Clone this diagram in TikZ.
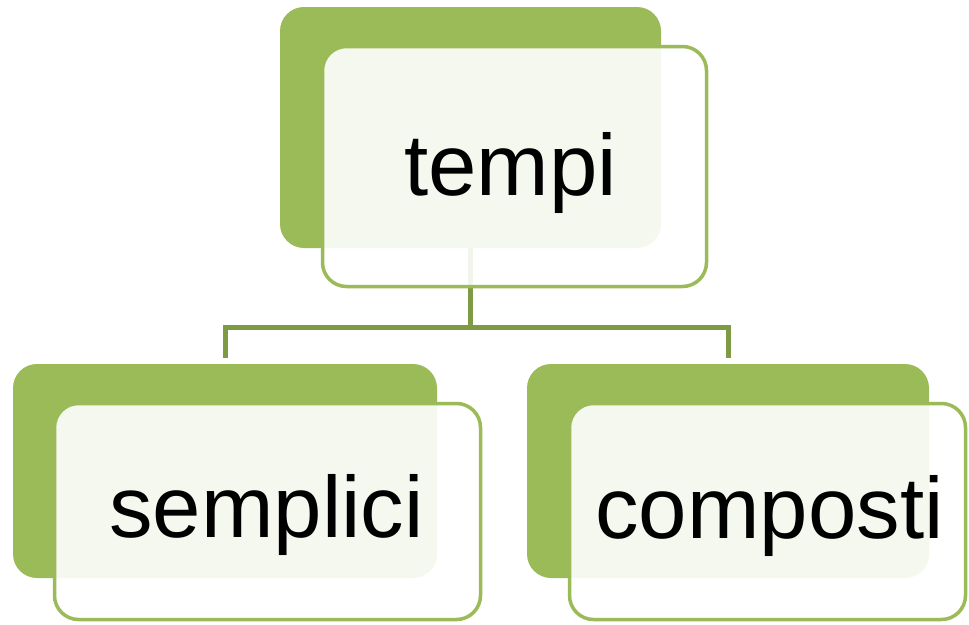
\documentclass[tikz,border=0pt]{standalone}
\usepackage{fontspec}
\setmainfont{Liberation Sans}
\definecolor{accgreen}{HTML}{9BBB59}
\definecolor{conngreen}{HTML}{7E9A45}
\begin{document}
\begin{tikzpicture}[x=1pt,y=-1pt,
  gbox/.style={fill=accgreen, draw=none, rounded corners=24pt, inner sep=0pt},
  wbox/.style={fill=white, fill opacity=0.9, draw=accgreen, draw opacity=1, line width=3.5pt, rounded corners=24pt, inner sep=0pt},
  conn/.style={draw=conngreen, line width=5pt},
  lbl/.style={anchor=base, inner sep=0pt, font=\fontsize{87}{100}\selectfont, text=black}]
\useasboundingbox (0,0) rectangle (969,624);
% back green shapes
\node[gbox, minimum width=381pt, minimum height=241pt] (tg) at (470.5,127.5) {};
\node[gbox, minimum width=424pt, minimum height=214pt] (lg) at (225,471) {};
\node[gbox, minimum width=402pt, minimum height=214pt] (rg) at (728,471) {};
% connectors
\coordinate (bus) at (470.5,327);
\draw[conn] (tg.south) -- (bus);
\draw[conn, shorten <=6pt] (lg.north) |- (bus);
\draw[conn, shorten <=6pt] (rg.north) |- (bus);
% front boxes
\node[wbox, minimum width=384pt, minimum height=240pt] (tw) at (514.5,166.5) {};
\node[wbox, minimum width=426pt, minimum height=216pt] (lw) at (267.5,511.5) {};
\node[wbox, minimum width=396pt, minimum height=216pt] (rw) at (767.5,511.5) {};
% labels
\node[lbl] (tt) at (510.5,195) {tempi};
\node[lbl] (lt) at (266.5,537) {semplici};
\node[lbl] (rt) at (769.5,538) {composti};
\end{tikzpicture}
\end{document}
